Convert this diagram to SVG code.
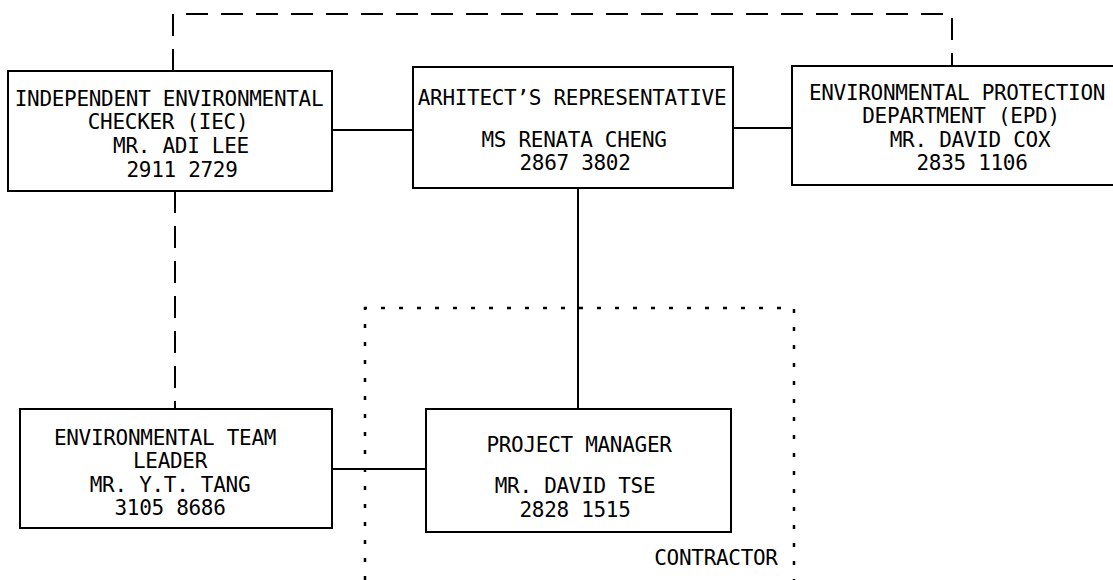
<svg xmlns="http://www.w3.org/2000/svg" width="1113" height="580" viewBox="0 0 1113 580">
<style>
.box{fill:#fff;stroke:#000;stroke-width:2}
.t{font-family:"DejaVu Sans Mono","Liberation Mono",monospace;font-size:21px;letter-spacing:-0.3px;fill:#000;text-anchor:middle}
.solid{stroke:#000;stroke-width:2;fill:none}
.dash{stroke:#000;stroke-width:2;fill:none;stroke-dasharray:22 13}
.dot{stroke:#000;stroke-width:2.5;fill:none;stroke-dasharray:4 14}
</style>
<rect width="1113" height="580" fill="#fff"/>
<g id="contractor-boundary">
<path class="dot" d="M365,580 V308 H794 V580"/>
<text class="t" x="716" y="565">CONTRACTOR</text>
</g>
<g id="connectors">
<path class="dash" d="M173,71 V14 H952 V66"/>
<path class="dash" d="M175,191 V409"/>
<path class="solid" d="M332,130 H413"/>
<path class="solid" d="M733,128 H792"/>
<path class="solid" d="M578,188 V409"/>
<path class="solid" d="M332,469 H426"/>
</g>
<g id="iec">
<rect class="box" x="8" y="71" width="324" height="120"/>
<text class="t" x="169" y="106">INDEPENDENT ENVIRONMENTAL</text>
<text class="t" x="168" y="129">CHECKER (IEC)</text>
<text class="t" x="181" y="153">MR. ADI LEE</text>
<text class="t" x="182" y="177">2911 2729</text>
</g>
<g id="architect">
<rect class="box" x="413" y="67" width="320" height="121"/>
<text class="t" x="572" y="105">ARHITECT’S REPRESENTATIVE</text>
<text class="t" x="574" y="147">MS RENATA CHENG</text>
<text class="t" x="575" y="170">2867 3802</text>
</g>
<g id="epd">
<rect class="box" x="792" y="66" width="340" height="119"/>
<text class="t" x="957" y="100">ENVIRONMENTAL PROTECTION</text>
<text class="t" x="961" y="123">DEPARTMENT (EPD)</text>
<text class="t" x="970" y="147">MR. DAVID COX</text>
<text class="t" x="972" y="170">2835 1106</text>
</g>
<g id="etl">
<rect class="box" x="20" y="409" width="312" height="119"/>
<text class="t" x="165" y="445">ENVIRONMENTAL TEAM</text>
<text class="t" x="170" y="468">LEADER</text>
<text class="t" x="170" y="492">MR. Y.T. TANG</text>
<text class="t" x="170" y="515">3105 8686</text>
</g>
<g id="project-manager">
<rect class="box" x="426" y="409" width="305" height="123"/>
<text class="t" x="579" y="452">PROJECT MANAGER</text>
<text class="t" x="575" y="493">MR. DAVID TSE</text>
<text class="t" x="575" y="517">2828 1515</text>
</g>
</svg>
